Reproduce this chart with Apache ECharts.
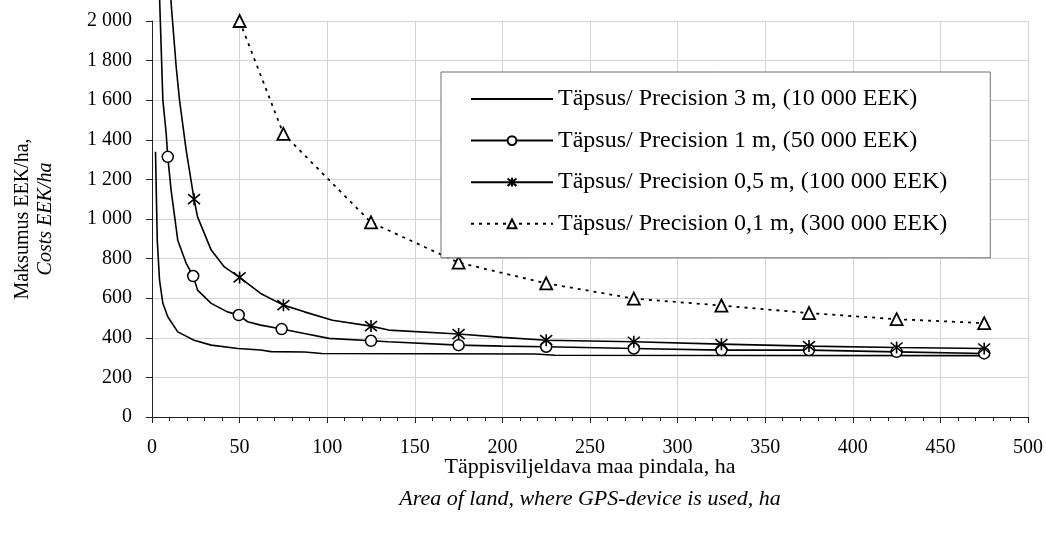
<!DOCTYPE html>
<html>
<head>
<meta charset="utf-8">
<script src="https://cdn.jsdelivr.net/npm/echarts@6/dist/echarts.min.js"></script>
<style>html,body{margin:0;padding:0;background:#fff}#c{width:1046px;height:537px}</style>
</head>
<body>
<div id="c"></div>
<script>
// ---- data ----
const xTicks = [0, 50, 100, 150, 200, 250, 300, 350, 400, 450, 500];
const yTicks = [0, 200, 400, 600, 800, 1000, 1200, 1400, 1600, 1800, 2000];

const seriesNames = [
  'Täpsus/ Precision 3 m, (10 000 EEK)',
  'Täpsus/ Precision 1 m, (50 000 EEK)',
  'Täpsus/ Precision 0,5 m, (100 000 EEK)',
  'Täpsus/ Precision 0,1 m, (300 000 EEK)'
];

// 3 m (no markers)
const s1X = [2, 3, 4.3, 6.2, 9, 14.7, 24, 33.8, 49, 62, 68, 87, 97, 219, 230, 475];
const s1Y = [1340, 893, 691, 574, 506, 430, 388, 363, 346, 338, 330, 328, 321, 318, 312, 310];
const s1Marks = [];

// 1 m (circles)
const s2X = [4.2, 6.2, 8.1, 9, 10.9, 14.7, 19.5, 23.5, 26, 33.8, 43, 49.5, 54.6, 62, 74, 87, 101, 125, 135, 175, 200, 225, 275, 325, 375, 425, 475];
const s2Y = [2150, 1600, 1432, 1314, 1146, 893, 776, 712, 641, 574, 531, 515, 481, 464, 444, 422, 397, 385, 380, 363, 358, 355, 346, 338, 338, 329, 321];
const s2Marks = [9, 23.5, 49.5, 74, 125, 175, 225, 275, 325, 375, 425, 475];

// 0,5 m (asterisks)
const s3X = [10, 11, 13.8, 15.7, 19.5, 24, 26, 33.8, 41.3, 50, 62, 75, 87, 103, 125, 135, 175, 200, 225, 275, 325, 375, 425, 475];
const s3Y = [2250, 2080, 1769, 1600, 1348, 1100, 1011, 843, 758, 705, 624, 565, 531, 489, 459, 439, 419, 402, 388, 380, 368, 358, 351, 346];
const s3Marks = [24, 50, 75, 125, 175, 225, 275, 325, 375, 425, 475];

// 0,1 m (triangles, dotted)
const s4X = [50, 75, 125, 175, 225, 275, 325, 375, 425, 475];
const s4Y = [2000, 1430, 983, 780, 675, 598, 563, 525, 494, 474];
const s4Marks = [50, 75, 125, 175, 225, 275, 325, 375, 425, 475];

// ---- build ----
function build(xs, ys, marks) {
  return xs.map((x, i) => marks.indexOf(x) >= 0 ? [x, ys[i]] : { value: [x, ys[i]], symbol: 'none' });
}
function fmtY(v) {
  if (v >= 1000) { const r = v % 1000; return Math.floor(v / 1000) + ' ' + String(r).padStart(3, '0'); }
  return String(v);
}
const FONT = '"Liberation Serif", "Times New Roman", serif';
const asterisk = 'path://M0,0 L10,10 M10,0 L0,10 M5,-1 L5,11';

const chart = echarts.init(document.getElementById('c'), null, { renderer: 'canvas' });
chart.setOption({
  backgroundColor: '#fff',
  animation: false,
  textStyle: { fontFamily: FONT, color: '#000' },
  grid: { left: 152, right: 17, top: 21, bottom: 120 },
  legend: {
    orient: 'vertical',
    left: 441, top: 72,
    padding: [15, 43, 22, 29],
    itemGap: 17.6,
    itemWidth: 82, itemHeight: 11,
    backgroundColor: '#fff',
    borderColor: '#707070', borderWidth: 1,
    textStyle: { fontFamily: FONT, fontSize: 24, color: '#000', lineHeight: 24 },
    data: [
      { name: seriesNames[0], itemStyle: { opacity: 0 } },
      { name: seriesNames[1] },
      { name: seriesNames[2] },
      { name: seriesNames[3] }
    ]
  },
  xAxis: {
    type: 'value', min: xTicks[0], max: xTicks[xTicks.length - 1], interval: 50,
    axisLine: { lineStyle: { color: '#222', width: 1 } },
    axisTick: { show: true, length: 6, lineStyle: { color: '#222' } },
    minorTick: { show: true, splitNumber: 5, length: 4, lineStyle: { color: '#222' } },
    splitLine: { show: true, lineStyle: { color: '#d4d4d4', width: 1 } },
    axisLabel: { fontFamily: FONT, fontSize: 20, color: '#000', margin: 21 },
    name: '{a|Täppisviljeldava maa pindala, ha}\n{b|Area of land, where GPS-device is used, ha}',
    nameLocation: 'middle', nameGap: 34, nameMoveOverlap: false,
    nameTextStyle: {
      rich: {
        a: { fontFamily: FONT, fontSize: 22, color: '#000', lineHeight: 32 },
        b: { fontFamily: FONT, fontSize: 22, fontStyle: 'italic', color: '#000', lineHeight: 32 }
      }
    }
  },
  yAxis: {
    type: 'value', min: yTicks[0], max: yTicks[yTicks.length - 1], interval: 200,
    axisLine: { show: true, lineStyle: { color: '#222', width: 1 } },
    axisTick: { show: true, length: 6, lineStyle: { color: '#222' } },
    splitLine: { show: true, lineStyle: { color: '#d4d4d4', width: 1 } },
    axisLabel: { fontFamily: FONT, fontSize: 20, color: '#000', margin: 20, formatter: fmtY },
    name: '{a|Maksumus EEK/ha,}\n{b|Costs EEK/ha}',
    nameLocation: 'middle', nameGap: 95, nameMoveOverlap: false,
    nameTextStyle: {
      rich: {
        a: { fontFamily: FONT, fontSize: 20, color: '#000', lineHeight: 23 },
        b: { fontFamily: FONT, fontSize: 20, fontStyle: 'italic', color: '#000', lineHeight: 23 }
      }
    }
  },
  series: [
    {
      name: seriesNames[0], type: 'line', clip: false, symbol: 'none',
      lineStyle: { color: '#000', width: 1.6 }, itemStyle: { color: '#000' },
      data: build(s1X, s1Y, s1Marks)
    },
    {
      name: seriesNames[1], type: 'line', clip: false, symbol: 'circle', symbolSize: 11,
      lineStyle: { color: '#000', width: 1.6 },
      itemStyle: { color: '#fff', borderColor: '#000', borderWidth: 1.5 },
      data: build(s2X, s2Y, s2Marks)
    },
    {
      name: seriesNames[2], type: 'line', clip: false, symbol: asterisk, symbolSize: 12,
      lineStyle: { color: '#000', width: 1.6 },
      itemStyle: { color: 'rgba(0,0,0,0)', borderColor: '#000', borderWidth: 1.6 },
      data: build(s3X, s3Y, s3Marks)
    },
    {
      name: seriesNames[3], type: 'line', clip: false, symbol: 'triangle', symbolSize: 12,
      lineStyle: { color: '#000', width: 1.8, type: [3, 5] },
      itemStyle: { color: '#fff', borderColor: '#000', borderWidth: 1.8 },
      data: build(s4X, s4Y, s4Marks)
    }
  ]
});
</script>
</body>
</html>
